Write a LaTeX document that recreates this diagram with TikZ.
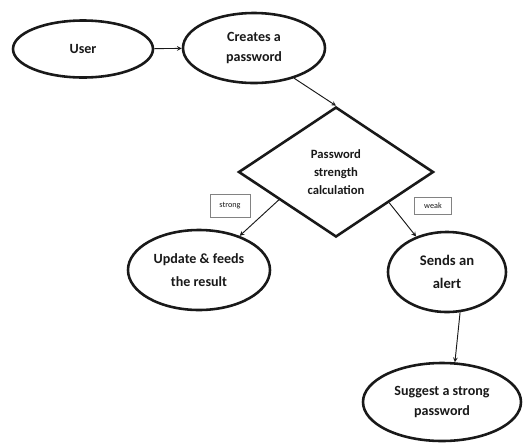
\documentclass[tikz,border=0pt]{standalone}
\usepackage{fontspec}
\setmainfont{Carlito}
\usepackage{tikz}
\usetikzlibrary{arrows,shapes,positioning}
\usepackage{xcolor}
\definecolor{pwdark}{RGB}{25,25,25}
\definecolor{pwgray}{RGB}{130,130,130}
\tikzstyle{oval} = [ellipse, draw=pwdark, line width=2.2pt, text centered, align=center, font=\bfseries\fontsize{12}{17}\selectfont, text=pwdark]
\tikzstyle{check} = [diamond, draw=pwdark, line width=2.2pt, text centered, align=center, minimum width=5.85cm, minimum height=3.9cm, font=\bfseries\fontsize{10.8}{15.5}\selectfont, text=pwdark]
\tikzstyle{tag} = [rectangle, draw=pwgray, line width=0.7pt, font=\fontsize{7}{7}\selectfont, text=pwdark, inner sep=1pt]
\tikzstyle{arrow} = [line width=0.8pt,->,>=stealth,color=pwdark]

\begin{document}
\begin{tikzpicture}
\useasboundingbox (0,0) rectangle (15.69,-13.38);

% Start
\node[oval, minimum width=4.2cm, minimum height=1.71cm] (user) at (2.49,-1.47) {User};
\node[oval, minimum width=4.26cm, minimum height=2.1cm] (create) at (7.62,-1.44) {Creates a\\password};

% Check
\node[check] (calc) at (10.08,-5.16) {Password\\strength\\calculation};

% Labels
\node[tag, minimum width=1.2cm, minimum height=0.69cm] (strong) at (6.9,-6.18) {strong};
\node[tag, minimum width=1.1cm, minimum height=0.5cm] (weak) at (12.99,-6.18) {weak};

% Results
\node[oval, minimum width=4.26cm, minimum height=2.4cm, font=\bfseries\fontsize{12}{20}\selectfont] (update) at (5.97,-8.1) {Update \& feeds\\the result};
\node[oval, minimum width=3.54cm, minimum height=2.4cm, font=\bfseries\fontsize{12.5}{20}\selectfont] (alert) at (13.41,-8.16) {Sends an\\alert};
\node[oval, minimum width=4.74cm, minimum height=2.34cm] (suggest) at (13.26,-12.06) {Suggest a strong\\password};

% Arrows
\draw[arrow] (user) -- (create);
\draw[arrow] (create.-37) -- (calc.north);
\draw[arrow] (calc.206) -- (update.40);
\draw[arrow] (calc.330) -- (alert.131);
\draw[arrow] (alert.-72) -- (suggest.72);
\end{tikzpicture}
\end{document}
